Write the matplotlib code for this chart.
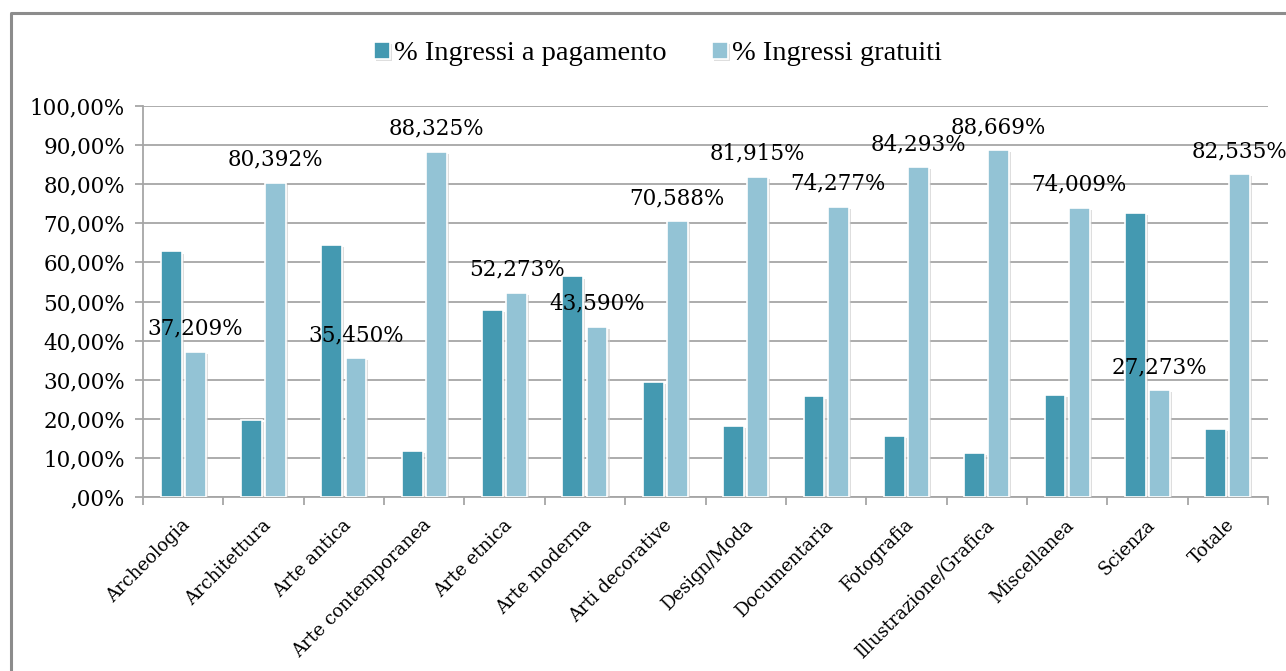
import numpy as np
import matplotlib.pyplot as plt
import matplotlib.patheffects as pe
import matplotlib.transforms as mtransforms
from matplotlib.lines import Line2D

categorie = ["Archeologia", "Architettura", "Arte antica", "Arte contemporanea",
             "Arte etnica", "Arte moderna", "Arti decorative", "Design/Moda",
             "Documentaria", "Fotografia", "Illustrazione/Grafica", "Miscellanea",
             "Scienza", "Totale"]
pagamento = [62.791, 19.608, 64.550, 11.675, 47.727, 56.410, 29.412, 18.085,
             25.723, 15.707, 11.331, 25.991, 72.727, 17.465]
gratuiti = [37.209, 80.392, 35.450, 88.325, 52.273, 43.590, 70.588, 81.915,
            74.277, 84.293, 88.669, 74.009, 27.273, 82.535]
etichette_gratuiti = ["37,209%", "80,392%", "35,450%", "88,325%", "52,273%",
                      "43,590%", "70,588%", "81,915%", "74,277%", "84,293%",
                      "88,669%", "74,009%", "27,273%", "82,535%"]
y_ticks = [0, 10, 20, 30, 40, 50, 60, 70, 80, 90, 100]
y_labels = [",00%", "10,00%", "20,00%", "30,00%", "40,00%", "50,00%",
            "60,00%", "70,00%", "80,00%", "90,00%", "100,00%"]

col_dark = "#4499B1"
col_light = "#93C3D5"
grid_col = "#A6A6A6"
serif = "DejaVu Serif"

fig = plt.figure(figsize=(12.86, 6.71), dpi=100)
# cornice grigia (solo lato sinistro e alto visibili)
fig.lines.append(Line2D([11 / 1286, 11 / 1286, 1.0], [0.0, 1 - 13 / 671, 1 - 13 / 671],
                        transform=fig.transFigure, color="#8C8C8C", linewidth=2.2))
ax = fig.add_axes([143 / 1286, 1 - 497 / 671, 1125 / 1286, 391 / 671])

x = np.arange(len(categorie))
w = 0.26
shadow = [pe.SimplePatchShadow(offset=(1.5, -1.5), shadow_rgbFace="#C8C8C8", alpha=0.6), pe.Normal()]
b1 = ax.bar(x - w / 2 - 0.02, pagamento, w, color=col_dark, edgecolor="white",
            linewidth=1.2, label="% Ingressi a pagamento", zorder=3)
b2 = ax.bar(x + w / 2 + 0.02, gratuiti, w, color=col_light, edgecolor="white",
            linewidth=1.2, label="% Ingressi gratuiti", zorder=3)
for b in list(b1) + list(b2):
    b.set_path_effects(shadow)

for xi, v, t in zip(x + w / 2 + 0.02, gratuiti, etichette_gratuiti):
    ax.annotate(t, (xi, v), xytext=(0, 16.5), textcoords="offset points",
                ha="center", va="center", fontsize=15.5, family=serif, zorder=5)

ax.set_xlim(-0.5, len(categorie) - 0.5)
ax.set_ylim(0, 100)
ax.set_yticks(y_ticks)
ax.set_yticklabels(y_labels, family=serif, fontsize=15.5)
ax.yaxis.grid(True, color=grid_col, linewidth=1.3, zorder=0)
ax.tick_params(axis="y", length=6, width=1.3, color=grid_col, pad=7)

# etichette delle categorie ruotate di 45 gradi
ax.set_xticks(x)
ax.set_xticklabels([])
ax.tick_params(axis="x", which="major", length=0)
lab_tr = ax.get_xaxis_transform() + mtransforms.ScaledTranslation(-2 / 100, -19 / 100, fig.dpi_scale_trans)
for xi, c in zip(x, categorie):
    ax.text(xi, 0, c, transform=lab_tr, rotation=45, ha="right", va="top",
            rotation_mode="anchor", family=serif, fontsize=13)
ax.set_xticks(np.arange(-0.5, len(categorie)), minor=True)
ax.tick_params(axis="x", which="minor", length=6, width=1.3, color=grid_col)

for s in ["top", "right"]:
    ax.spines[s].set_visible(False)
for s in ["left", "bottom"]:
    ax.spines[s].set_color(grid_col)
    ax.spines[s].set_linewidth(1.3)

leg = fig.legend(handles=[b1, b2], loc="center", bbox_to_anchor=(658 / 1286, 1 - 54 / 671),
                 ncol=2, frameon=False,
                 prop={"family": "Liberation Serif", "size": 20.5},
                 handlelength=0.55, handleheight=0.55, handletextpad=0.15, columnspacing=1.6)

fig.savefig("out.png", dpi=100)
